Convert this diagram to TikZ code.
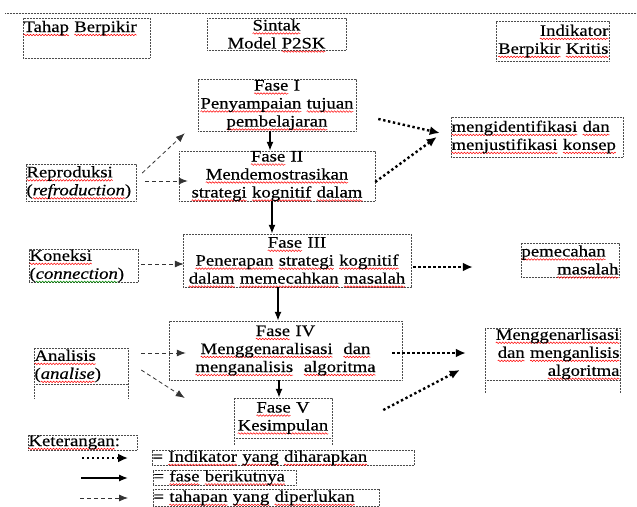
\documentclass[tikz,border=0pt]{standalone}
\usepackage{fontspec}
\setmainfont{Liberation Serif}[FakeStretch=1.17,FakeBold=0.4]
\usetikzlibrary{arrows.meta,calc,decorations.pathmorphing}
\newlength\wvlen
\newcommand\wvcol[2]{\leavevmode\settowidth{\wvlen}{#2}\rlap{\tikz[overlay,baseline=0pt,x=1pt,y=1pt]\draw[#1, line width=0.5pt, solid, decorate, decoration={snake, amplitude=0.8pt, segment length=3pt}] (0pt,-3pt) -- (\wvlen,-3pt);}#2}
\newcommand\wv[1]{\wvcol{red}{#1}}
\newcommand\wg[1]{\wvcol{green!55!black}{#1}}
\begin{document}
\begin{tikzpicture}[x=1pt,y=-1pt,
 bx/.style={draw=black!70, line width=0.5pt, dash pattern=on 0.6pt off 0.9pt, inner xsep=0.5pt, inner ysep=0pt, font=\fontsize{16pt}{18pt}\selectfont, text=black},
 bxline/.style={draw=black!70, line width=0.5pt, dash pattern=on 0.6pt off 0.9pt},
 dotarrow/.style={line width=2.4pt, dash pattern=on 2.4pt off 2.6pt, -{Latex[length=10pt,width=9pt]}},
 solidarrow/.style={line width=1.3pt, -{Latex[length=9pt,width=7pt]}},
 dasharrow/.style={draw=black!80, line width=0.8pt, dash pattern=on 4pt off 3pt, -{Latex[length=9pt,width=7pt]}}]
\fill[white] (0,0) rectangle (637,506);
\useasboundingbox (0,0) rectangle (637,506);
\draw[bxline] (5,13) -- (637,13);

% header boxes
\node[bx, text width=126pt, align=left, text height=14pt, text depth=26pt] (tahap) at (86.5,38) {\wv{Tahap} \wv{Berpikir}};
\node[bx, text width=138pt, align=center, minimum height=32pt] (sintak) at (276.5,34) {\wv{Sintak}\\Model \wv{P2SK}};
\node[bx, text width=112pt, align=right, minimum height=40pt] (indik) at (552.5,41) {\wv{Indikator}\\\wv{Berpikir} \wv{Kritis}};

% phases
\node[bx, text width=157pt, align=center, minimum height=52pt] (f1) at (277,105) {\wv{Fase} I\\\wv{Penyampaian} \wv{tujuan}\\\wv{pembelajaran}};
\node[bx, text width=195pt, align=center, minimum height=50pt] (f2) at (277,176) {\wv{Fase} II\\\wv{Mendemostrasikan}\\\wv{strategi} \wv{kognitif} \wv{dalam}};
\node[bx, text width=227pt, align=center, minimum height=53pt] (f3) at (297,260.5) {\wv{Fase} III\\\wv{Penerapan} \wv{strategi} \wv{kognitif}\\\wv{dalam} \wv{memecahkan} \wv{masalah}};
\node[bx, text width=232pt, align=center, minimum height=59pt] (f4) at (285.5,350.5) {\wv{Fase} IV\\\wv{Menggenaralisasi}\ \ \wv{dan}\\\wv{menganalisis}\ \ \wv{algoritma}};
\node[bx, text width=97pt, align=center, minimum height=40pt] (f5) at (283,418) {\wv{Fase} V\\\wv{Kesimpulan}};

% thinking stages
\node[bx, text width=109pt, align=left, minimum height=37pt] (repro) at (81,182.5) {\wv{Reproduksi}\\(\wv{\textit{refroduction}})};
\node[bx, text width=108pt, align=left, minimum height=32pt] (kon) at (83.5,266) {\wv{Koneksi}\\(\wg{\textit{connection}})};
\node[bx, text width=93pt, align=left, minimum height=36pt] (anal) at (81,366) {\wv{Analisis}\\(\wv{\textit{analise}})};

% indicators
\node[bx, text width=171pt, align=left, minimum height=40pt] (mengid) at (537,137) {\wv{mengidentifikasi} \wv{dan}\\\wv{menjustifikasi} \wv{konsep}};
\node[bx, text width=97pt, align=left, minimum height=34pt] (pemec) at (570,260) {\wv{pemecahan}\\\mbox{}\hfill\wv{masalah}};
\node[bx, text width=134pt, align=right, minimum height=52pt] (menggen) at (552.5,354) {\wv{Menggenarlisasi}\\\wv{dan} \wv{menganlisis}\\\wv{algoritma}};

% open box extensions
\draw[bxline] (f5.south west) -- ++(0,7);
\draw[bxline] (f5.south east) -- ++(0,7);
\draw[bxline] (anal.south west) -- ++(0,14);
\draw[bxline] (anal.south east) -- ++(0,14);
\draw[bxline] (menggen.south west) -- ++(0,13);
\draw[bxline] (menggen.south east) -- ++(0,13);

% legend
\node[bx, text width=108pt, align=left, minimum height=15pt] (ket) at (82.5,442.5) {\wv{Keterangan}:};
\node[bx, text width=261pt, align=left, minimum height=14pt] (leg1) at (283,458) {= \wv{Indikator} \wv{yang} \wv{diharapkan}};
\node[bx, text width=142pt, align=left, minimum height=15pt] (leg2) at (224.5,477.5) {= \wv{fase} \wv{berikutnya}};
\node[bx, text width=225pt, align=left, minimum height=17pt] (leg3) at (266,498) {= \wv{tahapan} \wv{yang} \wv{diperlukan}};
\coordinate (l1a) at (82,458); \coordinate (l1b) at (128,458);
\coordinate (l2a) at (81,478); \coordinate (l2b) at (128,478);
\coordinate (l3a) at (80,498); \coordinate (l3b) at (128,498);
\draw[dotarrow] (l1a) -- (l1b);
\draw[solidarrow] (l2a) -- (l2b);
\draw[dasharrow] (l3a) -- (l3b);

% solid phase arrows
\coordinate (s1) at ($(f1.south)+(-7,0)$);
\draw[solidarrow] (s1) -- (s1 |- f2.north);
\coordinate (s2) at ($(f2.south)+(-5,0)$);
\draw[solidarrow] (s2) -- (s2 |- f3.north);
\coordinate (s3) at ($(f3.south)+(-19,0)$);
\draw[solidarrow] (s3) -- (s3 |- f4.north);
\coordinate (s4) at ($(f4.south)+(-6.5,0)$);
\draw[solidarrow] (s4) -- (s4 |- f5.north);

% dashed stage arrows
\draw[dasharrow] ($(repro.east)+(6,-9.5)$) -- ($(f1.south west)+(-13,2)$);
\draw[dasharrow] ($(repro.east)+(9,-1.5)$) -- ($(f2.west)+(9,5)$);
\draw[dasharrow] ($(kon.east)+(3,-2)$) -- ($(f3.west)+(1,3.5)$);
\draw[dasharrow] ($(anal.east)+(13,-13)$) -- ($(f4.west)+(17,2.5)$);
\draw[dasharrow] ($(anal.east)+(13,4)$) -- ($(f5.west)+(-49,-20)$);

% dotted indicator arrows
\draw[dotarrow] ($(f1.east)+(22,14)$) -- ($(mengid.west)+(-11,-4)$);
\draw[dotarrow] ($(f2.east)+(0,6)$) -- ($(mengid.west)+(-14,0)$);
\draw[dotarrow] ($(f3.east)+(2,6.5)$) -- ($(pemec.west)+(-48,7)$);
\draw[dotarrow] ($(f4.east)+(-10,2.5)$) -- ($(menggen.west)+(-19,-1)$);
\draw[dotarrow] ($(f5.east)+(51,-8)$) -- ($(menggen.west)+(-25,16)$);
\end{tikzpicture}
\end{document}
